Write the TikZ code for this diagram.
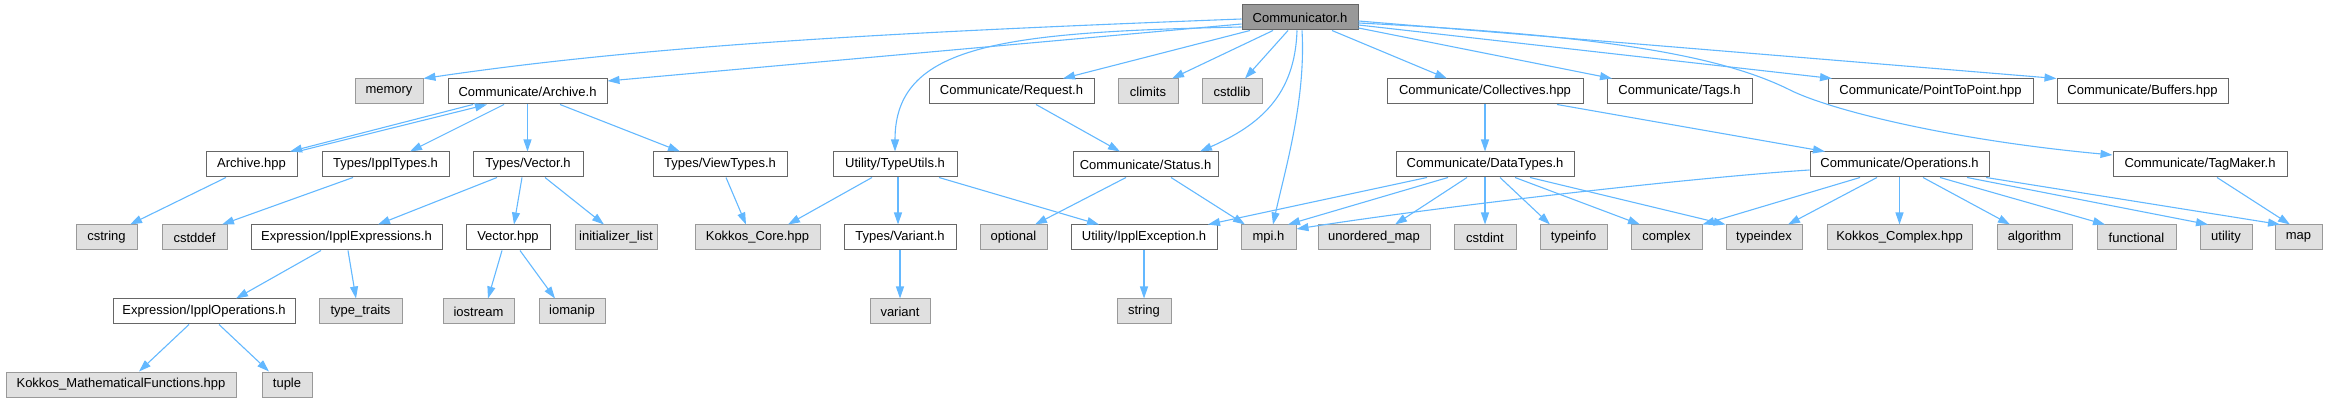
\documentclass[tikz,border=0pt]{standalone}
\usepackage{fontspec}
\setmainfont{Liberation Sans}
\usetikzlibrary{arrows.meta}
\definecolor{edgeblue}{HTML}{63B8FF}
\definecolor{wborder}{HTML}{666666}
\definecolor{gborder}{HTML}{999999}
\definecolor{gfill}{HTML}{E0E0E0}
\definecolor{rootfill}{HTML}{999999}
\tikzset{
  box/.style={rectangle, inner sep=0pt, minimum height=25pt, line width=1pt, font=\fontsize{13}{15}\selectfont, text=black},
  wbox/.style={box, draw=wborder, fill=white},
  gbox/.style={box, draw=gborder, fill=gfill},
  rbox/.style={box, draw=wborder, fill=rootfill},
  e/.style={draw=edgeblue, line width=1.1pt, -{Triangle[length=12pt,width=8pt]}}
}
\begin{document}
\begin{tikzpicture}[x=1pt,y=-1pt]
\useasboundingbox (0,0) rectangle (2327,403);
% row 0
\node[rbox, minimum width=116pt] (comm) at (1300,17.5) {Communicator.h};
% row 1
\node[gbox, minimum width=68pt] (memory) at (389,91.5) {memory};
\node[wbox, minimum width=159pt] (archh) at (527.5,91.5) {Communicate/Archive.h};
\node[wbox, minimum width=165pt] (request) at (1011.5,91.5) {Communicate/Request.h};
\node[gbox, minimum width=60pt] (climits) at (1148,91.5) {climits};
\node[gbox, minimum width=60pt] (cstdlib) at (1232,91.5) {cstdlib};
\node[wbox, minimum width=196pt] (collect) at (1485,91.5) {Communicate/Collectives.hpp};
\node[wbox, minimum width=145pt] (tags) at (1679.5,91.5) {Communicate/Tags.h};
\node[wbox, minimum width=205pt] (p2p) at (1930.5,91.5) {Communicate/PointToPoint.hpp};
\node[wbox, minimum width=171pt] (buffers) at (2142.5,91.5) {Communicate/Buffers.hpp};
% row 2
\node[wbox, minimum width=91pt] (archhpp) at (251.5,164.5) {Archive.hpp};
\node[wbox, minimum width=127pt] (ippltypes) at (385.5,164.5) {Types/IpplTypes.h};
\node[wbox, minimum width=110pt] (vectorh) at (528,164.5) {Types/Vector.h};
\node[wbox, minimum width=134pt] (viewtypes) at (720,164.5) {Types/ViewTypes.h};
\node[wbox, minimum width=124pt] (typeutils) at (895,164.5) {Utility/TypeUtils.h};
\node[wbox, minimum width=145pt] (status) at (1145.5,164.5) {Communicate/Status.h};
\node[wbox, minimum width=178pt] (datatypes) at (1485,164.5) {Communicate/DataTypes.h};
\node[wbox, minimum width=179pt] (operations) at (1899.5,164.5) {Communicate/Operations.h};
\node[wbox, minimum width=174pt] (tagmaker) at (2200,164.5) {Communicate/TagMaker.h};
% row 3
\node[gbox, minimum width=61pt] (cstring) at (106.5,237.5) {cstring};
\node[gbox, minimum width=65pt] (cstddef) at (194.5,237.5) {cstddef};
\node[wbox, minimum width=191pt] (exprs) at (346.5,237.5) {Expression/IpplExpressions.h};
\node[wbox, minimum width=84pt] (vectorhpp) at (508,237.5) {Vector.hpp};
\node[gbox, minimum width=82pt] (initlist) at (616,237.5) {initializer\_list};
\node[gbox, minimum width=125pt] (kcore) at (757.5,237.5) {Kokkos\_Core.hpp};
\node[wbox, minimum width=112pt] (varianth) at (900,237.5) {Types/Variant.h};
\node[gbox, minimum width=67pt] (optional) at (1013.5,237.5) {optional};
\node[wbox, minimum width=146pt] (exception) at (1144,237.5) {Utility/IpplException.h};
\node[gbox, minimum width=55pt] (mpi) at (1268.5,237.5) {mpi.h};
\node[gbox, minimum width=112pt] (umap) at (1374,237.5) {unordered\_map};
\node[gbox, minimum width=62pt] (cstdint) at (1485,237.5) {cstdint};
\node[gbox, minimum width=67pt] (typeinfo) at (1573.5,237.5) {typeinfo};
\node[gbox, minimum width=71pt] (complex) at (1666.5,237.5) {complex};
\node[gbox, minimum width=76pt] (typeindex) at (1764,237.5) {typeindex};
\node[gbox, minimum width=145pt] (kcomplex) at (1899.5,237.5) {Kokkos\_Complex.hpp};
\node[gbox, minimum width=75pt] (algorithm) at (2034.5,237.5) {algorithm};
\node[gbox, minimum width=79pt] (functional) at (2136.5,237.5) {functional};
\node[gbox, minimum width=52pt] (utility) at (2226,237.5) {utility};
\node[gbox, minimum width=47pt] (map) at (2298.5,237.5) {map};
% row 4
\node[wbox, minimum width=182pt] (ippops) at (204,311.5) {Expression/IpplOperations.h};
\node[gbox, minimum width=83pt] (typetraits) at (360.5,311.5) {type\_traits};
\node[gbox, minimum width=71pt] (iostream) at (478.5,311.5) {iostream};
\node[gbox, minimum width=66pt] (iomanip) at (572,311.5) {iomanip};
\node[gbox, minimum width=60pt] (variant) at (900,311.5) {variant};
\node[gbox, minimum width=54pt] (string) at (1144,311.5) {string};
% row 5
\node[gbox, minimum width=230pt] (kmath) at (121,384.5) {Kokkos\_MathematicalFunctions.hpp};
\node[gbox, minimum width=50pt] (tuple) at (287,384.5) {tuple};

% edges from Communicator.h
\draw[e] (comm.west |- 0,19) .. controls (900,32) and (650,45) .. (memory.north east);
\draw[e] (comm.west |- 0,24) -- (archh.east |- 0,81);
\draw[e] (comm.west |- 0,27) .. controls (1000,32) and (895,45) .. (typeutils.north);
\draw[e] (comm.south -| 1250,0) -- (request.north -| 1063,0);
\draw[e] (comm.south -| 1273,0) -- (climits.north -| 1172,0);
\draw[e] (comm.south -| 1288,0) -- (cstdlib.north -| 1245,0);
\draw[e] (comm.south -| 1297,0) .. controls (1295,95) and (1260,125) .. (status.north -| 1200,0);
\draw[e] (comm.south -| 1302,0) .. controls (1306,100) and (1285,170) .. (mpi.north -| 1273,0);
\draw[e] (comm.south -| 1332,0) -- (collect.north -| 1447,0);
\draw[e] (comm.east |- 0,28) -- (tags.north -| 1612,0);
\draw[e] (comm.east |- 0,25) -- (p2p.north -| 1832,0);
\draw[e] (comm.east |- 0,21) -- (buffers.north west);
\draw[e] (comm.east |- 0,23) .. controls (1600,35) and (1720,55) .. (1790,90) .. controls (1830,110) and (1950,140) .. (tagmaker.west |- 0,155);

% Archive.h
\draw[e] (archh.south -| 473,0) -- (archhpp.north -| 290,0);
\draw[e] (archhpp.north east) -- (archh.south -| 487,0);
\draw[e] (archh.south -| 504,0) -- (ippltypes.north -| 410,0);
\draw[e] (archh.south) -- (archh.south |- vectorh.north);
\draw[e] (archh.south -| 560,0) -- (viewtypes.north -| 680,0);

% row 1 others
\draw[e] (request.south -| 1036,0) -- (status.north -| 1120,0);
\draw[e] (collect.south) -- (datatypes.north);
\draw[e] (collect.south -| 1557,0) -- (operations.north -| 1825,0);

% row 2 -> row 3
\draw[e] (archhpp.south -| 226,0) -- (cstring.north -| 130,0);
\draw[e] (ippltypes.south -| 353,0) -- (cstddef.north -| 222,0);
\draw[e] (vectorh.south -| 497,0) -- (exprs.north -| 378,0);
\draw[e] (vectorh.south -| 522,0) -- (vectorhpp.north -| 514,0);
\draw[e] (vectorh.south -| 545,0) -- (initlist.north -| 604,0);
\draw[e] (viewtypes.south -| 726,0) -- (kcore.north -| 746,0);
\draw[e] (typeutils.south -| 872,0) -- (kcore.north -| 788,0);
\draw[e] (typeutils.south -| 898,0) -- (varianth.north -| 898,0);
\draw[e] (typeutils.south -| 939,0) -- (exception.north -| 1099,0);
\draw[e] (status.south -| 1126,0) -- (optional.north -| 1035,0);
\draw[e] (status.south -| 1171,0) -- (mpi.north -| 1245,0);
\draw[e] (datatypes.south -| 1427,0) -- (exception.north -| 1208,0);
\draw[e] (datatypes.south -| 1448,0) -- (mpi.north -| 1288,0);
\draw[e] (datatypes.south -| 1467,0) -- (umap.north -| 1395,0);
\draw[e] (datatypes.south) -- (cstdint.north);
\draw[e] (datatypes.south -| 1500,0) -- (typeinfo.north -| 1550,0);
\draw[e] (datatypes.south -| 1515,0) -- (complex.north -| 1640,0);
\draw[e] (datatypes.south -| 1530,0) -- (typeindex.north west);
\draw[e] (operations.west |- 0,170) .. controls (1700,177) and (1450,205) .. (mpi.east |- 0,229);
\draw[e] (operations.south -| 1860,0) -- (complex.north east);
\draw[e] (operations.south -| 1877,0) -- (typeindex.north -| 1788,0);
\draw[e] (operations.south) -- (kcomplex.north);
\draw[e] (operations.south -| 1923,0) -- (algorithm.north -| 2010,0);
\draw[e] (operations.south -| 1940,0) -- (functional.north -| 2105,0);
\draw[e] (operations.south -| 1967,0) -- (utility.north -| 2208,0);
\draw[e] (operations.south -| 1986,0) -- (map.north -| 2280,0);
\draw[e] (tagmaker.south -| 2217,0) -- (map.north -| 2290,0);

% row 3 -> row 4
\draw[e] (exprs.south -| 321,0) -- (ippops.north -| 236,0);
\draw[e] (exprs.south -| 348,0) -- (typetraits.north -| 356,0);
\draw[e] (vectorhpp.south -| 502,0) -- (iostream.north -| 488,0);
\draw[e] (vectorhpp.south -| 520,0) -- (iomanip.north -| 555,0);
\draw[e] (varianth.south) -- (variant.north);
\draw[e] (exception.south) -- (string.north);

% row 4 -> row 5
\draw[e] (ippops.south -| 189,0) -- (kmath.north -| 139,0);
\draw[e] (ippops.south -| 219,0) -- (tuple.north -| 269,0);
\end{tikzpicture}
\end{document}
